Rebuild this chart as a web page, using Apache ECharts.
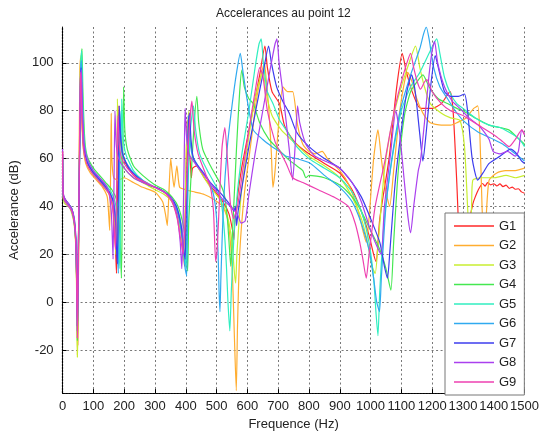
<!DOCTYPE html>
<html>
<head>
<meta charset="utf-8">
<script src="https://cdn.jsdelivr.net/npm/echarts@6/dist/echarts.min.js"></script>
<style>
  html, body { margin: 0; padding: 0; background: #fff; }
  #chart { width: 542px; height: 436px; }
</style>
</head>
<body>
<div id="chart"></div>
<script>
// Frequency response curves: [frequency (Hz), accelerance (dB)]
const seriesNames = ['G1', 'G2', 'G3', 'G4', 'G5', 'G6', 'G7', 'G8', 'G9'];
const seriesColors = ['#ff2828', '#ffad30', '#c8ee30', '#44e850', '#30eec0', '#30aaf0', '#3c3cee', '#aa40ee', '#ee40b0'];

const G1 = [[0,63],[2,45],[8,43],[20,41],[32,38],[40,31],[44,20],[47,0],[49,-18],[51,5],[55,60],[59,100],[62,85],[66,68],[75,60],[90,56],[110,52],[130,49],[150,46],[162,41],[168,33],[172,22],[175,12],[177,30],[181,70],[183,82],[186,72],[192,63],[205,58],[230,53],[260,50],[300,48],[330,46],[355,43],[372,38],[385,30],[393,20],[396,15],[399,35],[403,70],[405,76],[409,66],[415,58],[418,52],[422,56],[435,57],[460,52],[490,47],[520,42],[540,37],[552,30],[556,26],[560,35],[580,55],[610,75],[640,95],[657,107],[665,98],[680,88],[704,83],[720,74],[736,70],[760,66],[800,62],[850,58],[900,54],[940,47],[970,38],[995,28],[1010,20],[1018,17],[1030,35],[1060,60],[1085,90],[1103,104],[1115,97],[1135,88],[1162,81],[1200,81],[1230,83],[1258,88],[1268,80],[1280,50],[1290,20],[1300,10],[1315,30],[1332,41],[1340,44],[1350,47],[1364,49.6],[1372,48.5],[1380,50],[1390,49],[1400,49.5],[1410,48.6],[1420,49.4],[1430,48.3],[1440,48.9],[1450,47.6],[1460,48.1],[1470,47.2],[1480,47.4],[1490,46.1],[1500,45.5]];

const G2 = [[0,60],[2,44],[8,42],[20,40],[30,38],[38,33],[43,24],[46,5],[48,-22],[50,0],[53,50],[56,96],[58,102],[61,82],[66,66],[75,58],[90,54],[110,51],[130,48],[145,44],[150,36],[153,30],[156,55],[158,79],[160,60],[166,52],[180,51],[200,52],[230,50],[260,48],[300,46],[325,42],[335,36],[340,32],[345,45],[351,60],[356,54],[362,48],[371,57],[380,48],[400,47],[430,46],[460,45],[490,43],[520,40],[535,35],[545,25],[552,10],[558,-15],[564,-37],[568,-10],[575,20],[590,45],[610,65],[630,85],[645,95],[655,100],[662,92],[670,80],[678,62],[683,48],[690,55],[700,72],[715,90],[730,88],[747,88],[763,74],[780,66],[800,63],[820,62],[843,63],[860,60],[900,55],[930,49],[960,38],[975,30],[986,25],[995,35],[1010,60],[1024,72],[1035,60],[1050,46],[1062,40],[1075,55],[1095,80],[1110,92],[1120,96],[1135,92],[1150,85],[1170,79],[1194,75],[1230,74],[1260,74],[1280,75],[1310,77],[1335,81],[1348,82],[1355,70],[1362,40],[1368,25],[1375,35],[1385,51],[1410,54],[1438,55],[1470,55],[1500,56]];

const G3 = [[0,58],[2,43],[8,41],[20,40],[30,37],[38,32],[43,22],[46,0],[48,-23],[50,-5],[54,55],[58,98],[60,103],[63,84],[68,66],[78,58],[95,54],[115,51],[135,48],[152,45],[163,40],[170,30],[173,20],[175,45],[178,85],[181,68],[188,60],[200,56],[230,52],[260,50],[300,47],[330,45],[355,42],[372,36],[385,28],[392,18],[396,28],[402,65],[410,80],[415,68],[425,60],[450,54],[480,48],[510,43],[535,36],[550,25],[558,12],[562,8],[566,20],[580,45],[600,65],[625,85],[645,95],[652,96],[660,88],[680,78],[710,72],[750,67],[800,61],[850,57],[900,52],[940,44],[970,35],[990,25],[1005,15],[1015,12],[1025,25],[1045,55],[1070,75],[1095,88],[1120,98],[1146,107],[1160,98],[1175,90],[1194,83],[1230,79],[1260,77],[1290,76],[1305,65],[1315,40],[1322,22],[1328,40],[1332,51],[1360,52],[1400,52],[1440,53],[1470,52],[1500,53]];

const G4 = [[0,60],[2,44],[8,42],[20,41],[30,39],[38,34],[43,25],[46,5],[48,-16],[50,5],[55,60],[60,100],[63,106],[66,88],[72,68],[80,61],[100,56],[120,53],[140,50],[160,47],[175,43],[183,35],[188,22],[191,10],[194,40],[198,90],[202,72],[210,64],[230,57],[260,53],[300,49],[330,47],[355,44],[375,40],[392,32],[402,22],[406,13],[410,35],[425,70],[436,86],[442,75],[455,64],[480,57],[510,50],[525,45],[535,35],[542,22],[546,15],[552,30],[565,65],[575,88],[582,97],[590,90],[605,85],[619,83],[640,75],[670,68],[700,64],[730,60],[760,57],[780,55],[790,52],[800,53],[850,52],[900,49],[940,44],[970,38],[1000,30],[1030,22],[1050,14],[1066,5],[1075,25],[1090,55],[1110,78],[1130,88],[1150,92],[1170,95],[1190,90],[1220,85],[1250,83],[1280,81],[1300,80],[1340,77],[1385,74],[1420,73],[1449,72],[1475,69],[1500,66]];

const G5 = [[0,61],[2,45],[8,43],[20,41],[30,39],[38,35],[43,27],[46,8],[48,-12],[50,10],[55,62],[59,100],[62,105],[65,86],[70,68],[80,60],[100,55],[120,52],[140,49],[158,46],[172,41],[180,32],[184,20],[186,14],[189,45],[192,85],[196,70],[205,62],[230,55],[260,51],[300,48],[330,46],[355,43],[375,38],[390,28],[398,18],[401,14],[405,40],[415,72],[425,82],[432,72],[445,62],[470,55],[500,48],[515,42],[525,30],[532,15],[537,0],[543,-12],[548,5],[560,35],[580,60],[605,80],[625,98],[638,108],[645,110],[652,100],[665,88],[683,83],[705,76],[726,72],[760,65],[800,60],[850,56],[900,52],[940,46],[970,38],[995,25],[1010,10],[1018,-5],[1024,-14],[1030,5],[1045,35],[1070,60],[1100,80],[1130,90],[1160,96],[1190,104],[1205,108],[1215,110],[1225,104],[1240,94],[1260,87],[1280,83],[1300,81],[1340,77],[1385,74],[1420,73],[1450,71],[1475,69],[1490,67],[1500,65]];

const G6 = [[0,60],[2,44],[8,42],[20,40],[30,38],[38,33],[43,25],[46,8],[48,-10],[50,8],[55,58],[58,95],[61,101],[64,84],[70,66],[80,59],[100,54],[120,51],[140,48],[155,45],[168,40],[175,31],[179,18],[181,12],[184,45],[186,80],[190,68],[200,60],[230,54],[260,51],[300,48],[330,46],[355,43],[375,37],[390,25],[398,14],[403,11],[406,38],[408,78],[412,70],[420,62],[440,57],[470,52],[490,45],[500,35],[505,20],[508,5],[511,-4],[514,10],[522,40],[535,65],[550,82],[565,96],[577,104],[585,97],[600,84],[619,72],[650,68],[680,65],[704,63],[726,61],[760,60],[805,58],[850,53],[900,48],[940,42],[970,33],[995,22],[1010,10],[1020,0],[1029,-4],[1035,10],[1050,40],[1075,65],[1100,82],[1130,95],[1160,106],[1172,112],[1181,115],[1190,110],[1205,98],[1225,90],[1250,85],[1275,80],[1300,76],[1350,71],[1400,68],[1430,66],[1460,63],[1480,61],[1500,59]];

const G7 = [[0,62],[2,45],[8,43],[20,41],[30,39],[38,34],[43,26],[46,8],[48,-10],[50,10],[55,60],[58,92],[60,98],[63,82],[68,66],[78,59],[95,55],[115,52],[135,49],[152,46],[165,42],[172,33],[176,20],[178,16],[181,45],[184,82],[188,70],[195,62],[215,56],[245,52],[280,49],[320,47],[350,44],[370,40],[385,32],[393,22],[398,18],[402,40],[408,72],[412,79],[417,68],[425,60],[445,56],[480,50],[510,46],[530,43],[548,40],[556,38],[561,40],[565,32],[570,38],[585,50],[605,65],[630,82],[650,95],[669,107],[678,100],[695,90],[715,84],[736,79],[760,71],[800,65],[850,60],[900,56],[940,50],[970,44],[1000,35],[1030,25],[1045,15],[1055,10],[1062,20],[1080,50],[1100,72],[1118,88],[1133,95],[1145,88],[1160,70],[1170,59],[1180,70],[1195,90],[1210,103],[1222,97],[1240,88],[1260,86],[1285,86],[1305,87],[1315,80],[1330,60],[1348,51],[1365,54],[1385,58],[1420,61],[1455,64],[1475,62],[1490,59],[1500,58]];

const G8 = [[0,64],[2,46],[8,43],[20,41],[30,39],[38,35],[43,27],[46,10],[48,-12],[50,10],[55,62],[58,90],[61,97],[64,82],[70,66],[80,60],[100,55],[120,52],[140,49],[150,46],[158,38],[162,25],[164,18],[167,50],[170,80],[174,66],[182,60],[200,56],[230,52],[260,50],[300,48],[330,46],[355,43],[372,36],[382,25],[387,14],[391,30],[396,70],[398,81],[402,70],[410,62],[430,58],[460,53],[490,48],[520,43],[545,40],[560,38],[570,36],[580,33],[593,34],[605,45],[625,62],[650,80],[675,98],[690,108],[696,110],[703,100],[715,88],[735,65],[747,51],[755,65],[763,82],[770,75],[790,66],[820,61],[870,58],[900,56],[940,50],[970,42],[995,32],[1015,25],[1034,20],[1045,40],[1065,62],[1082,80],[1095,70],[1110,50],[1122,35],[1130,29],[1140,40],[1155,55],[1162,59],[1175,75],[1190,95],[1200,105],[1208,109],[1218,100],[1240,90],[1265,84],[1290,81],[1320,77],[1350,74],[1370,71],[1385,68],[1398,63],[1420,62],[1445,63],[1470,61],[1480,63],[1491,72],[1500,70]];

const G9 = [[0,63],[2,44],[8,42],[20,40],[30,38],[38,33],[43,24],[46,5],[48,-15],[50,5],[54,55],[57,90],[59,96],[62,80],[68,64],[78,58],[95,54],[115,51],[135,48],[152,45],[162,40],[168,30],[172,22],[174,35],[178,70],[180,78],[184,66],[192,60],[210,56],[240,52],[270,50],[300,48],[330,46],[355,42],[372,35],[385,25],[392,20],[398,35],[410,70],[420,84],[427,72],[440,62],[460,55],[480,48],[490,38],[497,17],[502,22],[510,45],[518,65],[527,73],[535,60],[545,41],[555,35],[568,40],[585,55],[605,72],[625,88],[640,98],[650,95],[665,80],[690,67],[710,62],[726,58],[747,52],[780,50],[830,47],[880,44],[928,40],[950,33],[965,25],[975,18],[986,10],[995,20],[1015,40],[1045,58],[1065,72],[1082,83],[1100,92],[1118,100],[1130,104],[1140,98],[1152,92],[1162,89],[1175,92],[1183,93],[1200,88],[1230,83],[1260,80],[1300,78],[1350,74],[1400,70],[1430,67],[1450,65],[1470,68],[1491,72],[1500,70]];

const seriesData = [G1, G2, G3, G4, G5, G6, G7, G8, G9];

const FONT = '"Liberation Sans", Arial, Helvetica, sans-serif';

const chart = echarts.init(document.getElementById('chart'), null, { renderer: 'canvas' });

chart.setOption({
  animation: false,
  backgroundColor: '#ffffff',
  color: seriesColors,
  title: {
    text: 'Accelerances au point 12',
    left: 211,
    top: 3,
    textStyle: { fontFamily: FONT, fontSize: 12, fontWeight: 'normal', color: '#222' }
  },
  grid: { left: 56, right: 16, top: 27, bottom: 39, containLabel: false },
  legend: {
    orient: 'vertical',
    left: 445,
    top: 213,
    data: seriesNames.map(n => ({ name: n, icon: 'rect' })),
    itemWidth: 40,
    itemHeight: 1.5,
    itemGap: 5.5,
    padding: [6, 8, 6, 9],
    backgroundColor: '#ffffff',
    borderColor: '#777',
    borderWidth: 1,
    textStyle: { fontFamily: FONT, fontSize: 13, color: '#222', lineHeight: 14 }
  },
  xAxis: {
    type: 'value',
    min: 0,
    max: 1500,
    interval: 100,
    name: 'Frequence (Hz)',
    nameLocation: 'middle',
    nameGap: 24,
    nameTextStyle: { fontFamily: FONT, fontSize: 13, color: '#222' },
    axisLine: { show: true, onZero: false, lineStyle: { color: '#000', width: 1.2, type: [2, 1] } },
    axisTick: { show: true, inside: true, length: 4, lineStyle: { color: '#000' } },
    axisLabel: {
      fontFamily: FONT, fontSize: 13, color: '#222', margin: 7,
      hideOverlap: false, showMinLabel: true, showMaxLabel: true,
      formatter: v => String(v)
    },
    splitLine: { show: true, lineStyle: { color: '#777', width: 1, type: [2, 2.5] } }
  },
  yAxis: {
    type: 'value',
    min: -38,
    max: 115,
    splitNumber: 8,
    name: 'Accelerance (dB)',
    nameLocation: 'middle',
    nameGap: 29,
    nameTextStyle: { fontFamily: FONT, fontSize: 13, color: '#222' },
    axisLine: { show: true, onZero: false, lineStyle: { color: '#000', width: 1.2, type: [2, 1] } },
    axisTick: { show: true, inside: true, length: 4, lineStyle: { color: '#000' } },
    axisLabel: { fontFamily: FONT, fontSize: 13, color: '#222', margin: 9, showMinLabel: false, showMaxLabel: false, formatter: v => String(v) },
    splitLine: { show: true, showMinLine: false, showMaxLine: false, lineStyle: { color: '#777', width: 1, type: [2, 2.5] } }
  },
  series: seriesNames.map((name, i) => ({
    name: name,
    type: 'line',
    data: seriesData[i],
    showSymbol: false,
    symbol: 'none',
    smooth: 0.2,
    clip: true,
    lineStyle: { width: 1.2, color: seriesColors[i] },
    itemStyle: { color: seriesColors[i] },
    emphasis: { disabled: true }
  }))
});
</script>
</body>
</html>
